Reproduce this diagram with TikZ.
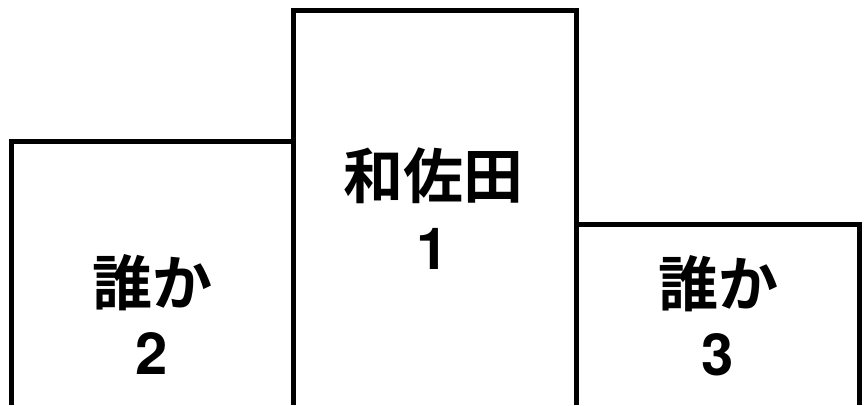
\documentclass[tikz,border=0pt]{standalone}
\usepackage{fontspec}
\setmainfont{TeX Gyre Heros}
\newfontfamily\jpfont{Noto Sans CJK JP Bold}

\begin{document}
\begin{tikzpicture}[x=1pt, y=-1pt,
    podium/.style={line width=5pt, line join=miter},
    who/.style={font=\jpfont\fontsize{60}{60}\selectfont, inner sep=0pt},
    rank/.style={font=\bfseries\fontsize{58}{58}\selectfont, inner sep=0pt}]
    \useasboundingbox (0,0) rectangle (868,405);
    \def\H{405}

    % Podium Outline
    \draw[podium] (11,\H) -- (11,141) -- (293,141);
    \draw[podium] (293,\H) -- (293,10) -- (576,10) -- (576,\H);
    \draw[podium] (576,224) -- (859,224) -- (859,\H);

    % Names
    \node[who] (second) at (152,283) {誰か};
    \node[who] (first) at (433,176) {和佐田};
    \node[who] (third) at (718,284) {誰か};

    % Places
    \node[rank] (place2) at (152,353) {2};
    \node[rank] (place1) at (433,249) {1};
    \node[rank] (place3) at (718,355) {3};
\end{tikzpicture}
\end{document}
